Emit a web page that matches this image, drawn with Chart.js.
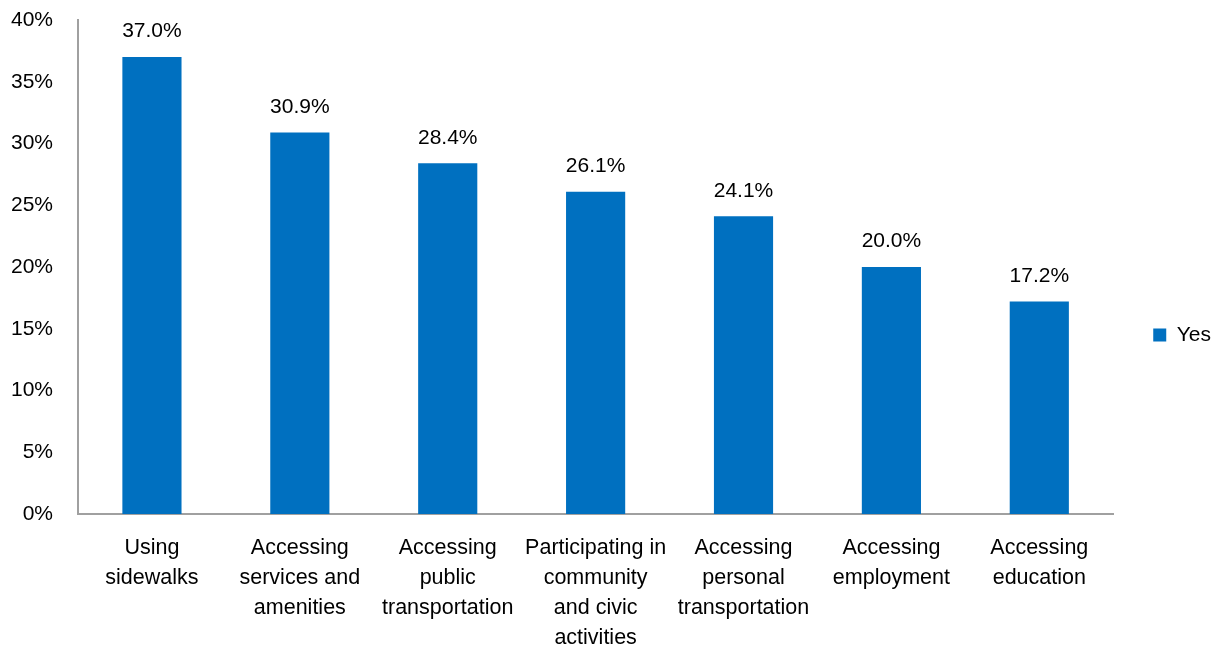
<!DOCTYPE html>
<html>
<head>
<meta charset="utf-8">
<script src="https://cdn.jsdelivr.net/npm/chart.js@4/dist/chart.umd.min.js"></script>
<style>
  html, body { margin: 0; padding: 0; background: #fff; }
  #wrap { width: 1221px; height: 650px; }
</style>
</head>
<body>
<div id="wrap"><canvas id="myChart"></canvas></div>
<script>
// categories (multi-line labels as shown under the axis)
const categories = [
  ['Using', 'sidewalks'],
  ['Accessing', 'services and', 'amenities'],
  ['Accessing', 'public', 'transportation'],
  ['Participating in', 'community', 'and civic', 'activities'],
  ['Accessing', 'personal', 'transportation'],
  ['Accessing', 'employment'],
  ['Accessing', 'education']
];
const yesValues = [37.0, 30.9, 28.4, 26.1, 24.1, 20.0, 17.2];
const yTicks = [0, 5, 10, 15, 20, 25, 30, 35, 40];

const FONT = "'Liberation Sans', Arial, sans-serif";

// value labels above each bar
const barLabels = {
  id: 'barLabels',
  afterDatasetsDraw(chart) {
    const ctx = chart.ctx;
    ctx.save();
    ctx.font = '21px ' + FONT;
    ctx.fillStyle = '#000';
    ctx.textAlign = 'center';
    ctx.textBaseline = 'bottom';
    chart.getDatasetMeta(0).data.forEach((bar, i) => {
      ctx.fillText(yesValues[i].toFixed(1) + '%', bar.x, bar.y - 15);
    });
    ctx.restore();
  }
};

let ctx = document.getElementById('myChart').getContext('2d');
let myChart = new Chart(ctx, {
  type: 'bar',
  data: {
    labels: categories,
    datasets: [{
      label: 'Yes',
      data: yesValues,
      backgroundColor: '#0070C0',
      categoryPercentage: 1,
      barPercentage: 0.4
    }]
  },
  options: {
    responsive: true,
    maintainAspectRatio: false,
    animation: false,
    layout: { padding: { top: 20, right: 0, left: 0, bottom: 0 } },
    plugins: {
      tooltip: { enabled: false },
      legend: {
        position: 'right',
        labels: {
          boxWidth: 13,
          boxHeight: 13,
          padding: 8,
          color: '#000',
          font: { family: FONT, size: 21 }
        }
      }
    },
    scales: {
      x: {
        grid: { display: false, drawTicks: false },
        border: { display: true, color: '#A0A0A0', width: 2 },
        ticks: {
          color: '#000',
          padding: 19,
          maxRotation: 0,
          autoSkip: false,
          font: { family: FONT, size: 21.5, lineHeight: 30 / 21.5 }
        },
        afterFit(scale) { scale.height = 136; }
      },
      y: {
        min: 0,
        max: 40,
        afterBuildTicks(scale) { scale.ticks = yTicks.map(v => ({ value: v })); },
        // hidden tick marks only push the labels away from the axis
        grid: { display: false, drawTicks: true, tickLength: 25 },
        border: { display: true, color: '#A0A0A0', width: 2 },
        ticks: {
          color: '#000',
          padding: 0,
          font: { family: FONT, size: 21 },
          callback: v => v + '%'
        },
        afterFit(scale) { scale.width = 78; }
      },
      // empty spacer between plot and legend
      gap: {
        type: 'linear',
        position: 'right',
        grid: { display: false, drawTicks: false },
        border: { display: false },
        ticks: { display: false },
        afterFit(scale) { scale.width = 32; }
      }
    }
  },
  plugins: [barLabels]
});
</script>
</body>
</html>
